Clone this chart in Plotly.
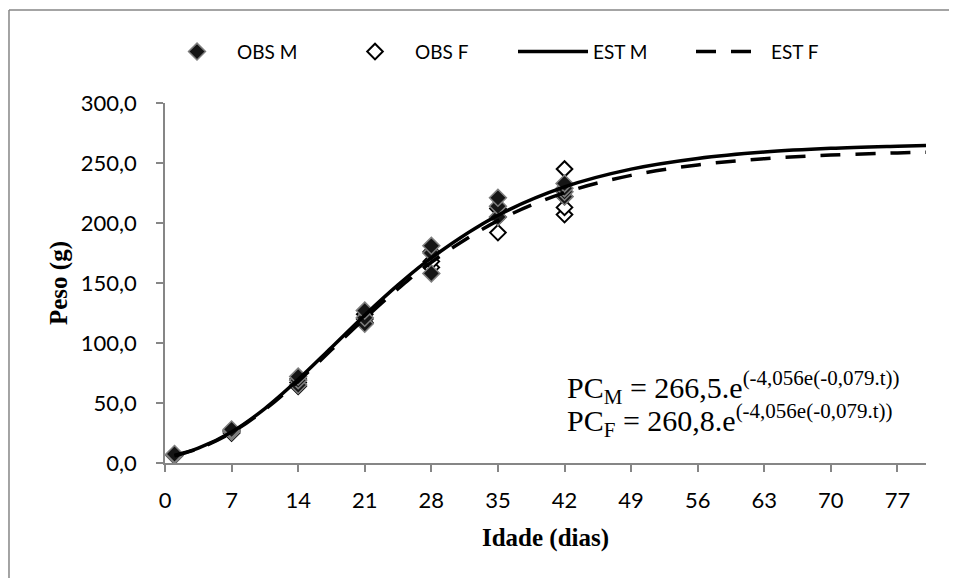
import plotly.graph_objects as go

# Observed data (days, weight g)
obs_m_t = [1, 1, 1, 7, 7, 7, 14, 14, 14, 21, 21, 21, 28, 28, 28, 35, 35, 35, 42, 42, 42, 42]
obs_m_y = [6.5, 7.0, 7.5, 26, 27, 28, 65, 69, 72, 116, 121, 127, 158, 175, 181, 205, 214, 221, 222, 226, 229, 233]
obs_f_t = [1, 1, 1, 7, 7, 7, 14, 14, 14, 21, 21, 21, 28, 28, 28, 35, 35, 35, 42, 42, 42, 42]
obs_f_y = [6.0, 6.5, 7.0, 25, 26, 27, 64, 67, 70, 117, 120, 124, 163, 168, 176, 192, 205, 212, 207, 213, 222, 245]

# Estimated curves
est_t = [1, 3.5, 7, 10.5, 14, 17.5, 21, 24.5, 28, 35, 42, 49, 56, 63, 70, 77, 80]
est_m = [6.3, 12.3, 25.9, 45.4, 69.6, 96.3, 123.2, 148.4, 170.9, 206.4, 230.1, 244.9, 253.8, 259.1, 262.2, 264.0, 264.6]
est_f = [6.1, 12.0, 25.3, 44.5, 68.1, 94.3, 120.5, 145.2, 167.3, 202.0, 225.2, 239.7, 248.4, 253.6, 256.6, 258.4, 258.9]

x_ticks = [0, 7, 14, 21, 28, 35, 42, 49, 56, 63, 70, 77]
y_ticks = [0, 50, 100, 150, 200, 250, 300]
y_tick_text = ["0,0", "50,0", "100,0", "150,0", "200,0", "250,0", "300,0"]

fig = go.Figure()
fig.add_trace(go.Scatter(
    x=obs_f_t, y=obs_f_y, mode="markers", name="OBS F", legendrank=2,
    marker=dict(symbol="diamond", size=12, color="white",
                line=dict(color="black", width=2)),
))
fig.add_trace(go.Scatter(
    x=obs_m_t, y=obs_m_y, mode="markers", name="OBS M", legendrank=1,
    marker=dict(symbol="diamond", size=13, color="#151515",
                line=dict(color="#7f7f7f", width=1.5)),
))
fig.add_trace(go.Scatter(
    x=est_t, y=est_m, mode="lines", name="EST M", legendrank=3,
    line=dict(color="black", width=3.5, shape="spline"),
))
fig.add_trace(go.Scatter(
    x=est_t, y=est_f, mode="lines", name="EST F", legendrank=4,
    line=dict(color="black", width=3.5, shape="spline", dash="20px,15px"),
))

axis_col = "#868686"
tick_font = dict(family="Lato, Carlito, sans-serif", size=22, color="black")
title_font = dict(family="Liberation Serif, Times New Roman, serif", size=25, color="black")

fig.update_layout(
    width=957, height=578,
    margin=dict(l=157, r=39, t=95, b=123, autoexpand=False),
    paper_bgcolor="white", plot_bgcolor="white",
    showlegend=True,
    legend=dict(orientation="h", x=-0.0105, y=1.1425, xanchor="left", yanchor="middle",
                bgcolor="rgba(0,0,0,0)", traceorder="normal",
                font=dict(family="Lato, Carlito, sans-serif", size=19, color="black"),
                entrywidth=93, entrywidthmode="pixels", itemwidth=70),
    xaxis=dict(range=[0, 80], tickvals=x_ticks, showgrid=False, zeroline=False,
               showline=True, linecolor=axis_col, linewidth=1.5,
               ticks="outside", ticklen=7, tickcolor=axis_col, tickwidth=1.5,
               tickfont=tick_font, ticklabelstandoff=10,
               title=dict(text="<b>Idade (dias)</b>", font=title_font, standoff=16)),
    yaxis=dict(range=[0, 300], tickvals=y_ticks, ticktext=y_tick_text, showgrid=False,
               zeroline=False, showline=True, linecolor=axis_col, linewidth=1.5,
               ticks="outside", ticklen=7, tickcolor=axis_col, tickwidth=1.5,
               tickfont=tick_font, ticklabelstandoff=15,
               title=dict(text="<b>Peso (g)</b>", font=title_font, standoff=6)),
)

eq_font = dict(family="Liberation Serif, Times New Roman, serif", size=30, color="black")
fig.add_annotation(x=42.1, y=63, xref="x", yref="y", xanchor="left", yanchor="middle",
                   text="PC<sub>M</sub> = 266,5.e<sup>(-4,056e(-0,079.t))</sup>",
                   showarrow=False, font=eq_font)
fig.add_annotation(x=42.1, y=35.5, xref="x", yref="y", xanchor="left", yanchor="middle",
                   text="PC<sub>F</sub> = 260,8.e<sup>(-4,056e(-0,079.t))</sup>",
                   showarrow=False, font=eq_font)

# outer chart border (top and left visible)
fig.add_shape(type="line", xref="paper", yref="paper", x0=-0.205, x1=1.06, y0=1.258, y1=1.258,
              line=dict(color=axis_col, width=1.5))
fig.add_shape(type="line", xref="paper", yref="paper", x0=-0.205, x1=-0.205, y0=1.258, y1=-0.4,
              line=dict(color=axis_col, width=1.5))

fig.write_html("out.html")
